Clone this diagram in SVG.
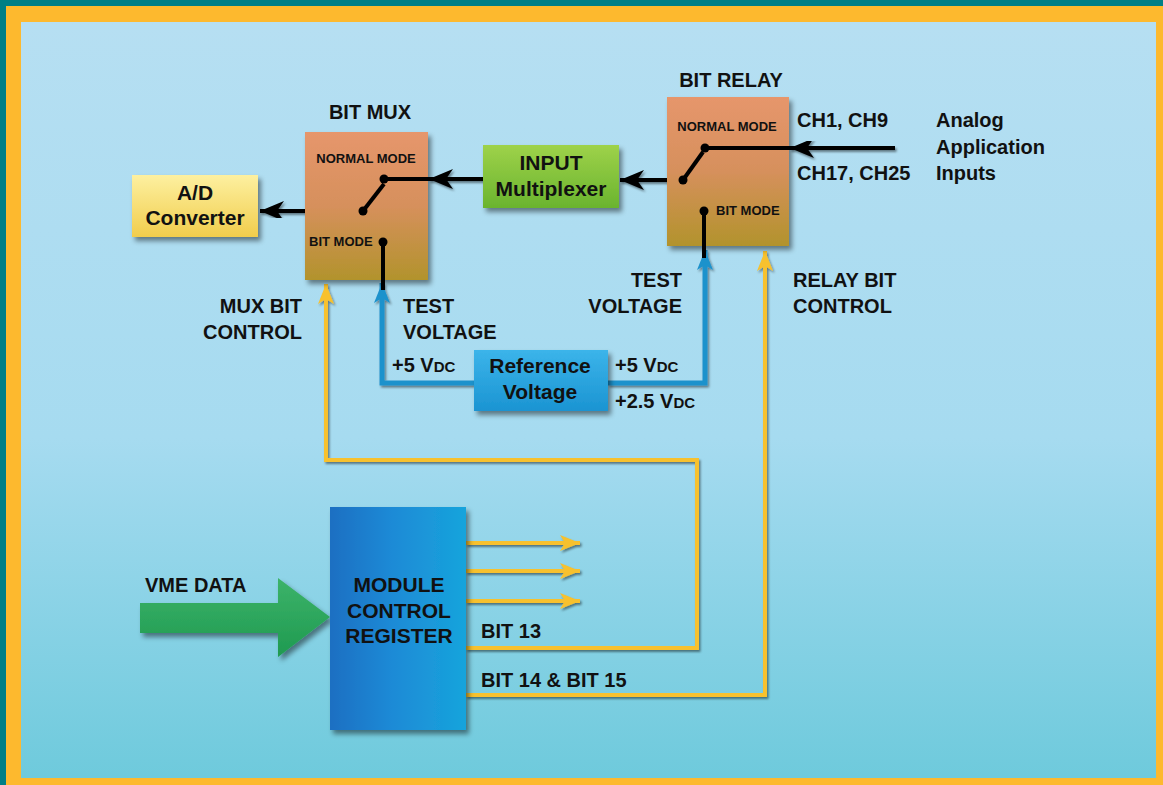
<svg xmlns="http://www.w3.org/2000/svg" width="1163" height="785" viewBox="0 0 1163 785">
  <defs>
    <linearGradient id="bg" x1="0" y1="0" x2="0" y2="1">
      <stop offset="0" stop-color="#b6dff2"/>
      <stop offset="0.55" stop-color="#a6dbf0"/>
      <stop offset="1" stop-color="#6ecadc"/>
    </linearGradient>
    <linearGradient id="gSwitch" x1="0" y1="0" x2="0" y2="1">
      <stop offset="0" stop-color="#e6966c"/>
      <stop offset="0.5" stop-color="#d6905c"/>
      <stop offset="1" stop-color="#b2932c"/>
    </linearGradient>
    <linearGradient id="gYellow" x1="0" y1="0" x2="0" y2="1">
      <stop offset="0" stop-color="#fdf0a0"/>
      <stop offset="1" stop-color="#f1cd4c"/>
    </linearGradient>
    <linearGradient id="gGreen" x1="0" y1="0" x2="0" y2="1">
      <stop offset="0" stop-color="#9ed24a"/>
      <stop offset="1" stop-color="#6ab42e"/>
    </linearGradient>
    <linearGradient id="gRef" x1="0" y1="0" x2="0" y2="1">
      <stop offset="0" stop-color="#3bb4ea"/>
      <stop offset="1" stop-color="#1b94d2"/>
    </linearGradient>
    <linearGradient id="gReg" x1="0" y1="0" x2="1" y2="0">
      <stop offset="0" stop-color="#1f6fc2"/>
      <stop offset="0.45" stop-color="#1f8ad6"/>
      <stop offset="1" stop-color="#16a4dc"/>
    </linearGradient>
    <linearGradient id="gVme" x1="0" y1="0" x2="0" y2="1">
      <stop offset="0" stop-color="#3cb36a"/>
      <stop offset="1" stop-color="#1f9a50"/>
    </linearGradient>
    <filter id="shadow" x="-20%" y="-20%" width="140%" height="140%">
      <feDropShadow dx="3" dy="4" stdDeviation="2.5" flood-color="#000" flood-opacity="0.45"/>
    </filter>
    <filter id="lineShadow" x="-10%" y="-10%" width="120%" height="120%">
      <feDropShadow dx="1.5" dy="2" stdDeviation="1" flood-color="#000" flood-opacity="0.45"/>
    </filter>
    <marker id="arBlack" markerUnits="userSpaceOnUse" markerWidth="26" markerHeight="22" refX="24" refY="11" orient="auto">
      <path d="M0,1 L24,11 L0,21 L7,11 Z" fill="#000"/>
    </marker>
    <marker id="arBlue" markerUnits="userSpaceOnUse" markerWidth="22" markerHeight="20" refX="20" refY="10" orient="auto">
      <path d="M0,2 L20,10 L0,18 L5,10 Z" fill="#1e92cc"/>
    </marker>
    <marker id="arYellow" markerUnits="userSpaceOnUse" markerWidth="22" markerHeight="20" refX="20" refY="10" orient="auto">
      <path d="M0,2 L20,10 L0,18 L5,10 Z" fill="#f7c12e"/>
    </marker>
  </defs>
  <style>
    text { font-family: "Liberation Sans", Arial, sans-serif; font-weight: bold; fill: #111; }
    .lbl { font-size: 20px; }
    .box { font-size: 21px; }
    .reg { font-size: 21px; }
    .sm { font-size: 13px; }
    .dc { font-size: 15px; }
    .mid { text-anchor: middle; }
    .end { text-anchor: end; }
    .blk { fill: none; stroke: #000; stroke-width: 4; }
    .blue { fill: none; stroke: #1e92cc; stroke-width: 5; }
    .yel { fill: none; stroke: #f7c12e; stroke-width: 4; }
  </style>

  <!-- frame and backdrop -->
  <rect x="0" y="0" width="1163" height="785" fill="#007f86"/>
  <rect x="6" y="6" width="1157" height="779" fill="#fdb92e"/>
  <rect x="21" y="22" width="1135" height="756" fill="url(#bg)"/>

  <!-- connectors -->
  <g id="connectors">
    <g filter="url(#lineShadow)">
      <!-- control bits from register -->
      <path class="yel" d="M466,648 H697 V460 H326 V284" marker-end="url(#arYellow)"/>
      <path class="yel" d="M466,695 H765 V251" marker-end="url(#arYellow)"/>
      <path class="yel" d="M466,543 H580" marker-end="url(#arYellow)"/>
      <path class="yel" d="M466,571 H580" marker-end="url(#arYellow)"/>
      <path class="yel" d="M466,601 H580" marker-end="url(#arYellow)"/>
      <!-- test voltage feeds -->
      <path class="blue" d="M474,383 H382 V283" marker-end="url(#arBlue)"/>
      <path class="blue" d="M608,383 H705 V250" marker-end="url(#arBlue)"/>
    </g>
    <g filter="url(#lineShadow)">
      <!-- analog inputs into relay -->
      <path class="blk" d="M895,148 H790" marker-end="url(#arBlack)"/>
      <!-- relay to input multiplexer -->
      <path class="blk" d="M683,180 H620" marker-end="url(#arBlack)"/>
      <!-- input multiplexer to mux -->
      <path class="blk" d="M483,179 H429" marker-end="url(#arBlack)"/>
      <!-- mux to A/D -->
      <path class="blk" d="M363,211 H260" marker-end="url(#arBlack)"/>
    </g>
  </g>

  <!-- A/D converter -->
  <g id="ad-converter">
    <rect x="132" y="175" width="126" height="62" fill="url(#gYellow)" filter="url(#shadow)"/>
    <text class="box mid" x="195" y="200">A/D</text>
    <text class="box mid" x="195" y="225">Converter</text>
  </g>

  <!-- BIT MUX -->
  <g id="bit-mux">
    <text class="lbl mid" x="370" y="119">BIT MUX</text>
    <rect x="305" y="132" width="123" height="148" fill="url(#gSwitch)" filter="url(#shadow)"/>
    <text class="sm mid" x="366" y="163">NORMAL MODE</text>
    <text class="sm" x="309" y="246">BIT MODE</text>
    <path class="blk" d="M384,179 H430"/>
    <path class="blk" d="M363,211 L384,184"/>
    <path class="blk" d="M383,242 V290"/>
    <circle cx="384" cy="179" r="4.5" fill="#000"/>
    <circle cx="363" cy="211" r="4.5" fill="#000"/>
    <circle cx="383" cy="242" r="4.5" fill="#000"/>
  </g>

  <!-- INPUT multiplexer -->
  <g id="input-mux">
    <rect x="483" y="145" width="136" height="63" fill="url(#gGreen)" filter="url(#shadow)"/>
    <text class="box mid" x="551" y="170">INPUT</text>
    <text class="box mid" x="551" y="196">Multiplexer</text>
  </g>

  <!-- BIT RELAY -->
  <g id="bit-relay">
    <text class="lbl mid" x="731" y="87">BIT RELAY</text>
    <rect x="667" y="97" width="122" height="149" fill="url(#gSwitch)" filter="url(#shadow)"/>
    <text class="sm mid" x="727" y="131">NORMAL MODE</text>
    <text class="sm" x="716" y="215">BIT MODE</text>
    <path class="blk" d="M705,148 H792"/>
    <path class="blk" d="M683,180 L703,152"/>
    <path class="blk" d="M704,211 V258"/>
    <circle cx="705" cy="148" r="4.5" fill="#000"/>
    <circle cx="683" cy="180" r="4.5" fill="#000"/>
    <circle cx="704" cy="211" r="4.5" fill="#000"/>
  </g>

  <!-- analog inputs -->
  <g id="analog-inputs">
    <text class="lbl" x="797" y="127">CH1, CH9</text>
    <text class="lbl" x="797" y="180">CH17, CH25</text>
    <text class="lbl" x="936" y="127">Analog</text>
    <text class="lbl" x="936" y="154">Application</text>
    <text class="lbl" x="936" y="180">Inputs</text>
  </g>

  <!-- reference voltage -->
  <g id="reference-voltage">
    <rect x="474" y="350" width="134" height="61" fill="url(#gRef)" filter="url(#shadow)"/>
    <text class="box mid" x="540" y="373">Reference</text>
    <text class="box mid" x="540" y="399">Voltage</text>
    <text class="lbl" x="392" y="372">+5 V<tspan class="dc">DC</tspan></text>
    <text class="lbl" x="615" y="372">+5 V<tspan class="dc">DC</tspan></text>
    <text class="lbl" x="615" y="408">+2.5 V<tspan class="dc">DC</tspan></text>
    <text class="lbl" x="403" y="313">TEST</text>
    <text class="lbl" x="403" y="339">VOLTAGE</text>
    <text class="lbl end" x="682" y="287">TEST</text>
    <text class="lbl end" x="682" y="313">VOLTAGE</text>
  </g>

  <!-- control labels -->
  <g id="control-labels">
    <text class="lbl end" x="302" y="313">MUX BIT</text>
    <text class="lbl end" x="302" y="339">CONTROL</text>
    <text class="lbl" x="793" y="287">RELAY BIT</text>
    <text class="lbl" x="793" y="313">CONTROL</text>
    <text class="lbl" x="481" y="638">BIT 13</text>
    <text class="lbl" x="481" y="687">BIT 14 &amp; BIT 15</text>
  </g>

  <!-- VME data input -->
  <g id="vme-data">
    <text class="lbl" x="145" y="592">VME DATA</text>
    <path d="M140,603 H278 V578 L330,617 L278,657 V633 H140 Z" fill="url(#gVme)" filter="url(#shadow)"/>
  </g>

  <!-- module control register -->
  <g id="module-control-register">
    <rect x="330" y="507" width="136" height="223" fill="url(#gReg)" filter="url(#shadow)"/>
    <text class="reg mid" x="399" y="592">MODULE</text>
    <text class="reg mid" x="399" y="618">CONTROL</text>
    <text class="reg mid" x="399" y="643">REGISTER</text>
  </g>
</svg>
